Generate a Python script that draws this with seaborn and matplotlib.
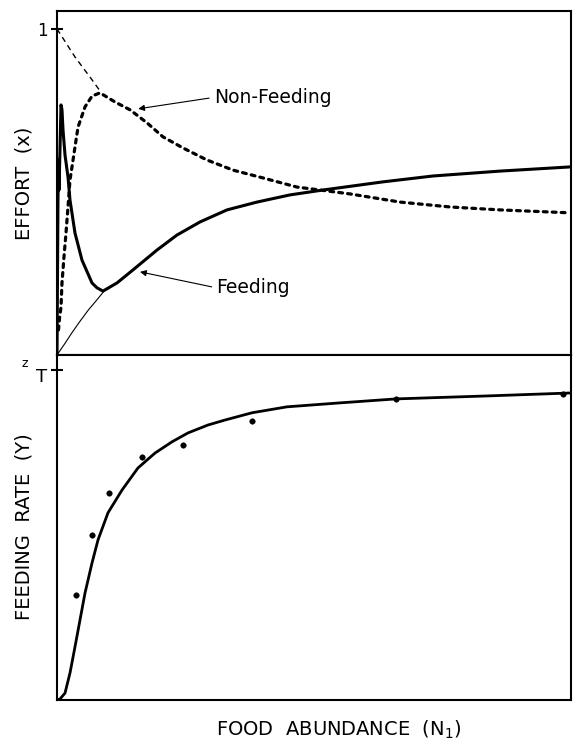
import numpy as np
import pandas as pd
import matplotlib
matplotlib.use("Agg")
import matplotlib.pyplot as plt
import matplotlib.transforms as mtransforms
import seaborn as sns

# food abundance is in arbitrary units (0-100), efforts scaled so the top tick is 1,
# feeding rate scaled so the top tick is z_T

# upper panel: feeding effort (thick solid curve with its spike near zero)
feed_x = [0, 0.19, 0.29, 0.39, 0.58, 0.78, 0.97, 1.17, 1.56, 2.14, 2.53, 3.5, 4.86,
          6.81, 7.78, 8.95, 11.67, 14.79, 19.46, 23.35, 27.82, 33.07, 38.91, 45.33,
          51.75, 63.42, 73.15, 86.19, 100]
feed_y = [0, 0.475, 0.598, 0.506, 0.629, 0.767, 0.752, 0.69, 0.613, 0.546, 0.475, 0.374,
          0.291, 0.221, 0.206, 0.196, 0.221, 0.261, 0.322, 0.368, 0.408, 0.445, 0.469,
          0.491, 0.506, 0.531, 0.549, 0.564, 0.577]

# thin lower branch joining the feeding curve at its minimum
branch_x = [0, 1.4, 2.85, 4.5, 6.1, 7.6, 9.0]
branch_y = [0, 0.032, 0.067, 0.104, 0.138, 0.166, 0.193]

# thin dashed line falling from 1
dash_x = [0, 3.5, 6.81, 8.5]
dash_y = [1.0, 0.914, 0.844, 0.807]

# non-feeding effort (dotted)
nonfeed_x = [0.29, 0.49, 0.78, 0.97, 1.36, 1.75, 2.14, 2.53, 2.92, 3.5, 4.09, 5.45, 6.81,
             8.37, 11.28, 14.2, 17.51, 20.62, 24.51, 29.18, 34.24, 40.08, 46.69, 51.17,
             57.0, 66.73, 76.46, 86.19, 99.81]
nonfeed_y = [0.077, 0.113, 0.147, 0.221, 0.301, 0.374, 0.454, 0.537, 0.577, 0.638, 0.699,
             0.761, 0.794, 0.804, 0.776, 0.752, 0.712, 0.669, 0.635, 0.598, 0.567, 0.543,
             0.515, 0.506, 0.494, 0.469, 0.454, 0.445, 0.436]

# lower panel: fitted feeding rate and observed points
rate_x = [0, 0.58, 1.56, 2.53, 3.5, 4.47, 5.45, 6.81, 7.98, 9.92, 12.65, 15.76, 19.07,
          22.37, 25.49, 29.38, 32.68, 37.94, 44.75, 55.06, 65.95, 83.66, 100]
rate_y = [0, 0.003, 0.021, 0.082, 0.161, 0.242, 0.324, 0.415, 0.485, 0.567, 0.636, 0.703,
          0.748, 0.782, 0.809, 0.833, 0.848, 0.87, 0.888, 0.9, 0.912, 0.921, 0.93]
obs_x = [3.7, 6.81, 10.12, 16.54, 24.51, 37.94, 65.95, 98.44]
obs_y = [0.318, 0.5, 0.627, 0.736, 0.773, 0.845, 0.912, 0.927]

sns.set_style("white")
plt.rcParams["font.family"] = ["DejaVu Sans"]
plt.rcParams["text.color"] = "black"
plt.rcParams["ytick.color"] = "black"
plt.rcParams["lines.solid_joinstyle"] = "round"

fig = plt.figure(figsize=(5.76, 7.44), dpi=100)
ax1 = fig.add_axes([57 / 576, 1 - 355 / 744, 514 / 576, 344 / 744])
ax2 = fig.add_axes([57 / 576, 1 - 700 / 744, 514 / 576, 345 / 744])

kw = dict(estimator=None, sort=False, color="black", legend=False)
sns.lineplot(x=branch_x, y=branch_y, ax=ax1, lw=0.8, **kw)
sns.lineplot(x=dash_x, y=dash_y, ax=ax1, lw=1.0, linestyle=(0, (4, 3)), **kw)
sns.lineplot(x=nonfeed_x, y=nonfeed_y, ax=ax1, lw=2.3, linestyle=(0, (1.2, 1.6)),
             dash_capstyle="round", **kw)
sns.lineplot(x=feed_x, y=feed_y, ax=ax1, lw=2.2, **kw)

sns.lineplot(x=rate_x, y=rate_y, ax=ax2, lw=2.0, **kw)
sns.scatterplot(x=obs_x, y=obs_y, ax=ax2, color="black", s=16, edgecolor="black", zorder=5)

ax1.annotate("Non-Feeding", xy=(15.8, 0.755), xytext=(30.5, 0.79), fontsize=13.5,
             ha="left", va="center",
             arrowprops=dict(arrowstyle="-|>", lw=0.8, color="black", relpos=(0, 0.5),
                             shrinkA=1, shrinkB=0, mutation_scale=9))
ax1.annotate("Feeding", xy=(16.15, 0.255), xytext=(31.0, 0.206), fontsize=13.5,
             ha="left", va="center",
             arrowprops=dict(arrowstyle="-|>", lw=0.8, color="black", relpos=(0, 0.5),
                             shrinkA=1, shrinkB=0, mutation_scale=9))

ax1.set_xlim(0, 100)
ax1.set_ylim(0, 1.055)
ax2.set_xlim(0, 100)
ax2.set_ylim(0, 1.045)

for ax in (ax1, ax2):
    ax.set_xticks([])
    ax.set_xlabel("")
    ax.set_ylabel("")
    for sp in ax.spines.values():
        sp.set_linewidth(1.5)
        sp.set_color("black")
    ax.tick_params(axis="y", direction="inout", length=9, width=1.5, left=True,
                   labelsize=12, pad=2)

ax1.set_yticks([1])
ax1.set_yticklabels(["1"])
ax2.set_yticks([1])
ax2.set_yticklabels([""])

trans = mtransforms.blended_transform_factory(ax2.transAxes, ax2.transData)
ax2.text(-0.062, 1.02, "z", transform=trans, fontsize=9, ha="center", va="center")
ax2.text(-0.031, 0.978, "T", transform=trans, fontsize=13, ha="center", va="center")

fig.text(24 / 576, 1 - 183 / 744, "EFFORT  (x)", rotation=90, fontsize=14,
         ha="center", va="center")
fig.text(24 / 576, 1 - 527 / 744, "FEEDING  RATE  (Y)", rotation=90, fontsize=14,
         ha="center", va="center")
fig.text(339 / 576, 1 - 730 / 744, "FOOD  ABUNDANCE  (N$_1$)", fontsize=14,
         ha="center", va="center")

fig.savefig("out.png", dpi=100)
